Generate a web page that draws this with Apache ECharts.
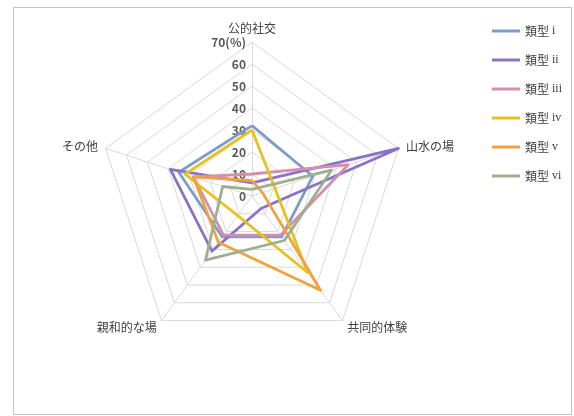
<!DOCTYPE html>
<html>
<head>
<meta charset="utf-8">
<script src="https://cdn.jsdelivr.net/npm/echarts@6/dist/echarts.min.js"></script>
<style>
html,body{margin:0;padding:0;background:#fff;}
#chart{position:absolute;left:0;top:0;width:574px;height:416px;}
#frame{position:absolute;left:13px;top:7px;width:557px;height:406px;border:1px solid #c4c4c4;pointer-events:none;}
</style>
</head>
<body>
<div id="chart"></div>
<div id="frame"></div>
<script>
// Categories listed clockwise from the top, as in the reference
const indicators = ['公的社交', '山水の場', '共同的体験', '親和的な場', 'その他'];
const seriesNames = ['類型 i', '類型 ii', '類型 iii', '類型 iv', '類型 v', '類型 vi'];
const typeI   = [32, 29, 23, 23, 35];
const typeII  = [6, 70, 7, 31, 39];
const typeIII = [10, 46, 22, 22, 28];
const typeIV  = [30, 11, 43, 11, 32];
const typeV   = [7, 5, 53, 26, 28];
const typeVI  = [3, 38, 25, 36, 14];
const axisMax = 70;
const tickStep = 10;
const unitLabel = '(%)';

const colors = ['#7d9cc9', '#8a72c6', '#d48fb0', '#e6c21f', '#f2a23c', '#9daf8d'];
const allValues = [typeI, typeII, typeIII, typeIV, typeV, typeVI];

// ECharts radar runs counter-clockwise; reorder so the layout is clockwise
const order = [0, 4, 3, 2, 1];
const ordIndicators = order.map(i => indicators[i]);

const chart = echarts.init(document.getElementById('chart'), null, {renderer: 'canvas'});
chart.setOption({
  animation: false,
  color: colors,
  legend: {
    orient: 'vertical',
    left: 487,
    top: 20,
    itemWidth: 28,
    itemHeight: 3,
    itemGap: 17,
    icon: 'rect',
    formatter: n => {
      const p = n.split(' ');
      return '{a|' + p[0] + '}{b|' + p[1] + '}';
    },
    textStyle: {
      color: '#404040',
      rich: {
        a: {fontFamily: 'Noto Sans CJK JP', fontSize: 12, color: '#404040'},
        b: {fontFamily: 'Liberation Serif', fontSize: 12, color: '#404040', padding: [0, 0, 0, 3]}
      }
    },
    data: seriesNames
  },
  radar: {
    center: [252, 196],
    radius: 154,
    startAngle: 90,
    splitNumber: axisMax / tickStep,
    shape: 'polygon',
    nameGap: 8,
    axisName: {fontFamily: 'Noto Sans CJK JP', fontSize: 12, color: '#404040'},
    axisLine: {lineStyle: {color: '#d9d9d9', width: 1}},
    splitLine: {lineStyle: {color: '#d9d9d9', width: 1}},
    splitArea: {show: false},
    axisTick: {show: false},
    axisLabel: {show: false},
    indicator: ordIndicators.map((n, i) => {
      const o = {name: n, min: 0, max: axisMax};
      if (i === 0) {
        o.axisLabel = {
          show: true,
          fontFamily: 'Noto Sans CJK JP',
          fontSize: 12,
          fontWeight: 'bold',
          color: '#595959',
          margin: 6,
          formatter: v => v === axisMax ? v + unitLabel : String(v)
        };
      }
      return o;
    })
  },
  series: [{
    type: 'radar',
    symbol: 'none',
    lineStyle: {width: 2.8},
    data: allValues.map((vals, i) => ({
      name: seriesNames[i],
      value: order.map(k => vals[k]),
      lineStyle: {color: colors[i], width: 2.8},
      itemStyle: {color: colors[i]}
    }))
  }]
});
</script>
</body>
</html>
